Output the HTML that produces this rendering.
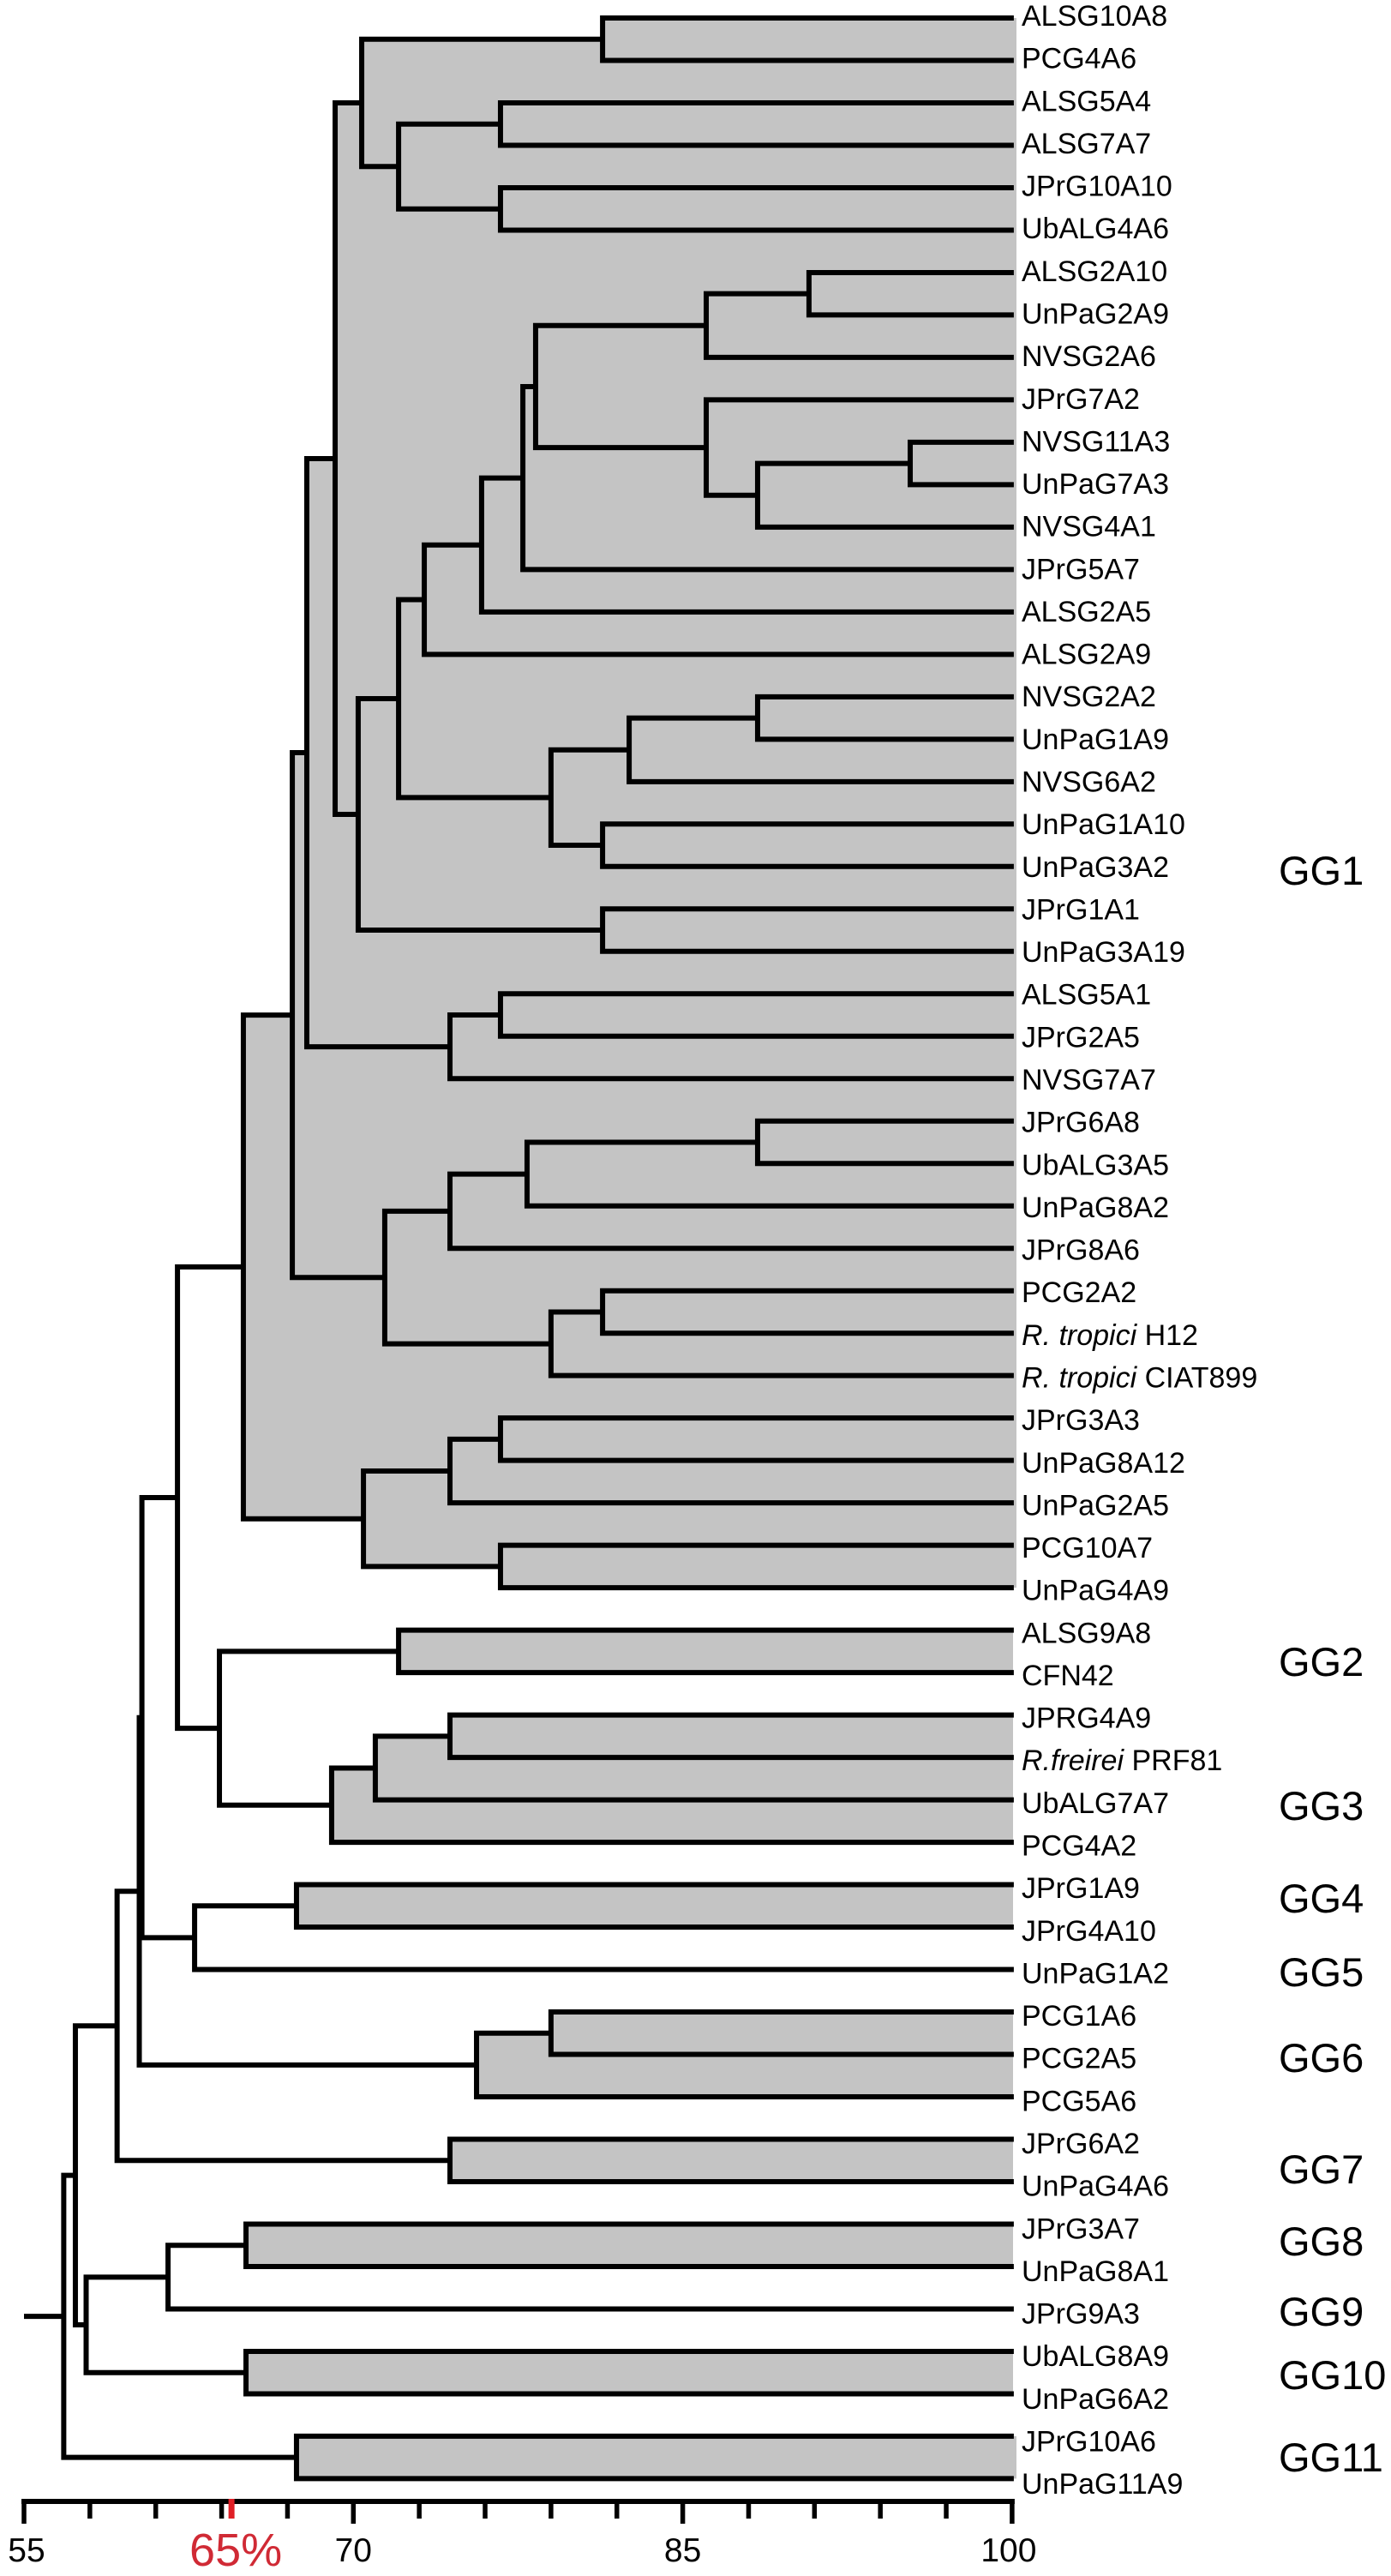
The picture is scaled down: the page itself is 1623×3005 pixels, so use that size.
<!DOCTYPE html>
<html lang="en">
<head>
<meta charset="utf-8">
<title>Dendrogram of rhizobia strains</title>
<style>
html,body{margin:0;padding:0;background:#fff;}
svg{display:block;font-family:"Liberation Sans",Arial,Helvetica,sans-serif;}
.group{font-size:47px;fill:#000;}
</style>
</head>
<body>
<svg id="chart" xmlns="http://www.w3.org/2000/svg" width="1623" height="3005" viewBox="0 0 1623 3005">
<rect x="0" y="0" width="1623" height="3005" fill="#ffffff"/>
<g id="shading"></g>
<g id="branches"></g>
<g id="leaves"></g>
<g id="axis"></g>
<g>
<text class="group" x="1492" y="1032">GG1</text>
<text class="group" x="1492" y="1955">GG2</text>
<text class="group" x="1492" y="2123">GG3</text>
<text class="group" x="1492" y="2231">GG4</text>
<text class="group" x="1492" y="2317">GG5</text>
<text class="group" x="1492" y="2417">GG6</text>
<text class="group" x="1492" y="2547">GG7</text>
<text class="group" x="1492" y="2631">GG8</text>
<text class="group" x="1492" y="2713">GG9</text>
<text class="group" x="1492" y="2787">GG10</text>
<text class="group" x="1492" y="2883">GG11</text>
</g>
</svg>
<script>
// Strain names, top to bottom. *...* marks italic text.
var leafLabels = ["ALSG10A8","PCG4A6","ALSG5A4","ALSG7A7","JPrG10A10","UbALG4A6","ALSG2A10","UnPaG2A9","NVSG2A6","JPrG7A2","NVSG11A3","UnPaG7A3","NVSG4A1","JPrG5A7","ALSG2A5","ALSG2A9","NVSG2A2","UnPaG1A9","NVSG6A2","UnPaG1A10","UnPaG3A2","JPrG1A1","UnPaG3A19","ALSG5A1","JPrG2A5","NVSG7A7","JPrG6A8","UbALG3A5","UnPaG8A2","JPrG8A6","PCG2A2","*R. tropici* H12","*R. tropici* CIAT899","JPrG3A3","UnPaG8A12","UnPaG2A5","PCG10A7","UnPaG4A9","ALSG9A8","CFN42","JPRG4A9","*R.freirei* PRF81","UbALG7A7","PCG4A2","JPrG1A9","JPrG4A10","UnPaG1A2","PCG1A6","PCG2A5","PCG5A6","JPrG6A2","UnPaG4A6","JPrG3A7","UnPaG8A1","JPrG9A3","UbALG8A9","UnPaG6A2","JPrG10A6","UnPaG11A9"];
// Linkage: child ids below 100 are leaf rows; 100+k refers to merge k.
var mergeChildA = [0,2,4,101,100,6,105,10,107,9,106,110,111,112,16,114,19,115,113,21,118,104,23,122,121,26,125,126,30,128,127,124,33,132,36,133,131,38,40,138,139,137,136,44,143,142,47,146,145,50,148,52,151,55,152,150,57,155];
var mergeChildB = [1,3,5,102,103,7,8,11,12,108,109,13,14,15,17,18,20,116,117,22,119,120,24,25,123,27,28,29,31,32,129,130,34,35,37,134,135,39,41,42,43,140,141,45,46,144,48,49,147,51,149,53,54,56,153,154,58,156];
var mergeSimilarity = [81.35,76.7,76.7,72.06,70.38,90.75,86.07,95.36,88.41,86.07,78.3,77.72,75.84,73.23,88.41,82.56,81.35,79.0,72.06,81.35,70.22,69.17,76.7,74.4,67.88,88.41,77.91,74.4,81.35,79.0,71.43,67.22,76.7,74.4,76.7,70.46,64.99,72.06,74.4,71.0,69.01,63.9,61.99,67.41,62.77,60.37,79.0,75.61,60.25,74.4,59.24,65.11,61.56,65.11,57.83,57.34,67.41,56.81];
// Merges whose span is shaded grey (merge indices).
var shadedMerges = [0,1,2,3,4,5,6,7,8,9,10,11,12,13,14,15,16,17,18,19,20,21,22,23,24,25,26,27,28,29,30,31,32,33,34,35,36,37,38,39,40,43,46,47,49,51,53,56];
var axisTicks = [55,58,61,64,67,70,73,76,79,82,85,88,91,94,97,100];
var axisLabels = [55,70,85,100];
var cutoffValue = [64.45];
var cutoffLabel = ["65%"];
var rootValue = [55];

var SVGNS = "http://www.w3.org/2000/svg";
function xScale(v){ return 28 + (v - 55) * 25.62; }
function yScale(row){ return 21 + row * 49.49; }
function labelBaseline(row){ return 30 + row * 49.64; }
function mk(tag, attrs, parent){
  var el = document.createElementNS(SVGNS, tag);
  for (var k in attrs) el.setAttribute(k, attrs[k]);
  parent.appendChild(el);
  return el;
}
var lineWidth = 6;
var nodeY = [];
function childPos(id){
  if (id < 100) return { x: xScale(100) + 2, y: yScale(id) };
  return { x: xScale(mergeSimilarity[id - 100]), y: nodeY[id - 100] };
}
mergeSimilarity.forEach(function(s, i){
  nodeY[i] = (childPos(mergeChildA[i]).y + childPos(mergeChildB[i]).y) / 2;
});

var shadeG = document.getElementById("shading");
shadedMerges.forEach(function(m){
  var a = childPos(mergeChildA[m]), b = childPos(mergeChildB[m]), x = xScale(mergeSimilarity[m]);
  var right = (m <= 36 || m === 56) ? 1186 : 1182;
  var r = mk("rect", { x: x, y: a.y, width: right - x, height: b.y - a.y, fill: "#c4c4c4" }, shadeG);
  
  
});

var branchG = document.getElementById("branches");
mergeSimilarity.forEach(function(s, i){
  var a = childPos(mergeChildA[i]), b = childPos(mergeChildB[i]), x = xScale(s);
  var d = "M" + a.x + " " + a.y + "H" + x + "V" + b.y + "H" + b.x;
  var p = mk("path", { d: d, fill: "none", stroke: "#000", "stroke-width": lineWidth, "stroke-linejoin": "miter" }, branchG);
  
  
});
var rootIdx = mergeSimilarity.length - 1;
var rootLine = mk("line", { x1: xScale(rootValue[0]), x2: xScale(mergeSimilarity[rootIdx]), y1: nodeY[rootIdx], y2: nodeY[rootIdx], stroke: "#000", "stroke-width": lineWidth }, branchG);



var leafG = document.getElementById("leaves");
leafLabels.forEach(function(label, i){
  var t = mk("text", { x: 1192, y: labelBaseline(i), "font-size": 34, fill: "#000" }, leafG);
  
  
  label.split("*").forEach(function(part, j){
    if (!part) return;
    var s = mk("tspan", j % 2 ? { "font-style": "italic" } : {}, t);
    s.textContent = part;
  });
});

var axisG = document.getElementById("axis");
var axisY = 2918;
var axisLine = mk("line", { x1: xScale(55) - 3, x2: xScale(100) + 3, y1: axisY, y2: axisY, stroke: "#000", "stroke-width": 6 }, axisG);


axisTicks.forEach(function(v){
  var major = axisLabels.indexOf(v) >= 0;
  var tick = mk("line", { x1: xScale(v), x2: xScale(v), y1: axisY, y2: major ? 2944 : 2938, stroke: "#000", "stroke-width": 5.5 }, axisG);
  
  
});
axisLabels.forEach(function(v, i){
  var nudge = i === 0 ? 3 : (i === axisLabels.length - 1 ? -4 : 0);
  var t = mk("text", { x: xScale(v) + nudge, y: 2988, "font-size": 39, "text-anchor": "middle", fill: "#000" }, axisG);
  
  
  t.textContent = String(v);
});
var cutTick = mk("line", { x1: xScale(cutoffValue[0]), x2: xScale(cutoffValue[0]), y1: axisY - 3, y2: 2938, stroke: "#e01f26", "stroke-width": 7 }, axisG);


var cutText = mk("text", { x: xScale(cutoffValue[0]) + 5, y: 2993, "font-size": 54, "text-anchor": "middle", fill: "#d02a35" }, axisG);


cutText.textContent = cutoffLabel[0];
</script>
</body>
</html>
